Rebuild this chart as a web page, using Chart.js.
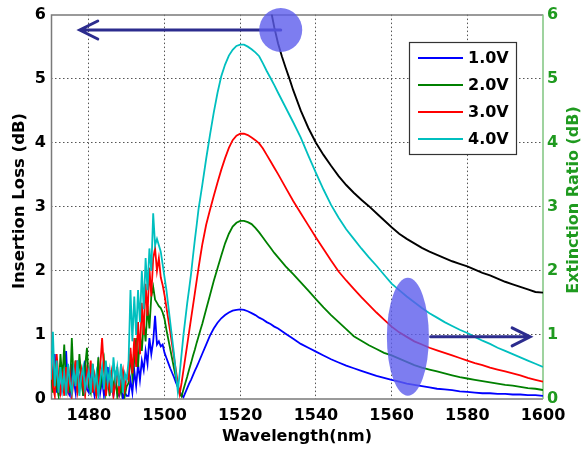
<!DOCTYPE html>
<html>
<head>
<meta charset="utf-8">
<script src="https://cdn.jsdelivr.net/npm/chart.js@4.4.1/dist/chart.umd.min.js"></script>
<style>
  html, body { margin: 0; padding: 0; background: #fff; }
  #wrap { width: 581px; height: 455px; }
</style>
</head>
<body>
<div id="wrap"><canvas id="chart" width="581" height="455"></canvas></div>
<script>
// wavelength grid (nm) shared by the four extinction-ratio sweeps
const scanWl = [
  1470, 1470.5, 1471, 1471.5, 1472, 1472.5, 1473, 1473.5, 1474, 1474.5,
  1475, 1475.5, 1476, 1476.5, 1477, 1477.5, 1478, 1478.5, 1479, 1479.5,
  1480, 1480.5, 1481, 1481.5, 1482, 1482.5, 1483, 1483.5, 1484, 1484.5,
  1485, 1485.5, 1486, 1486.5, 1487, 1487.5, 1488, 1488.5, 1489, 1489.5,
  1490, 1490.5, 1491, 1491.5, 1492, 1492.5, 1493, 1493.5, 1494, 1494.5,
  1495, 1495.5, 1496, 1496.5, 1497, 1497.5, 1498, 1498.5, 1499, 1499.5,
  1500, 1500.5, 1501, 1501.5, 1502, 1502.5, 1503, 1503.5, 1504, 1504.5,
  1505, 1505.5, 1506, 1506.5, 1507, 1507.5, 1508, 1508.5, 1509, 1509.5,
  1510, 1511, 1512, 1513, 1514, 1515, 1516, 1517, 1518, 1519,
  1520, 1521, 1522, 1523, 1524, 1525, 1526, 1527, 1528, 1529,
  1530, 1532, 1534, 1536, 1538, 1540, 1542, 1544, 1546, 1548,
  1550, 1552, 1554, 1556, 1558, 1560, 1562, 1564, 1566, 1568,
  1570, 1572, 1574, 1576, 1578, 1580, 1582, 1584, 1586, 1588,
  1590, 1592, 1594, 1596, 1598, 1600
];

// extinction ratio (dB) per bias voltage
const er1V = [
  0.55, 0.15, 0.7, 0.1, 0.3, 0.05, 0.45, 0.2, 0.75, 0.1,
  0.05, 0.55, 0.3, 0.1, 0.6, 0.2, 0.45, 0.05, 0.6, 0.15,
  0.1, 0.5, 0.2, 0.05, 0.35, 0.55, 0.1, 0.3, 0.05, 0.25,
  0.5, 0.1, 0.2, 0.05, 0.3, 0.1, 0.05, 0.2, 0.0, 0.1,
  0.05, 0.05, 0.3, 0.1, 0.45, 0.2, 0.55, 0.3, 0.6, 0.45,
  0.75, 0.55, 0.95, 0.7, 0.9, 1.3, 0.85, 0.9, 0.82, 0.85,
  0.72, 0.64, 0.56, 0.48, 0.41, 0.34, 0.26, 0.19, 0.12, 0.06,
  0.03, 0.1, 0.17, 0.24, 0.3, 0.37, 0.44, 0.5, 0.57, 0.64,
  0.71, 0.85, 0.99, 1.1, 1.19, 1.26, 1.31, 1.35, 1.38, 1.39,
  1.4, 1.39, 1.37, 1.34, 1.31, 1.27, 1.24, 1.2, 1.17, 1.13,
  1.1, 1.02, 0.94, 0.86, 0.8, 0.74, 0.68, 0.62, 0.57, 0.52,
  0.48, 0.44, 0.4, 0.36, 0.33, 0.3, 0.27, 0.24, 0.22, 0.2,
  0.18, 0.16, 0.15, 0.14, 0.12, 0.11, 0.1, 0.09, 0.09, 0.08,
  0.08, 0.07, 0.07, 0.06, 0.06, 0.05
];
const er2V = [
  0.4, 0.1, 0.55, 0.2, 0.05, 0.7, 0.3, 0.85, 0.15, 0.45,
  0.1, 0.95, 0.25, 0.6, 0.1, 0.7, 0.35, 0.05, 0.5, 0.8,
  0.2, 0.1, 0.55, 0.3, 0.05, 0.65, 0.15, 0.4, 0.6, 0.1,
  0.3, 0.05, 0.45, 0.15, 0.35, 0.05, 0.25, 0.1, 0.4, 0.05,
  0.2, 0.25, 0.7, 0.35, 0.6, 0.95, 0.5, 1.0, 0.75, 1.2,
  0.9, 1.45, 1.1, 1.6, 1.75, 1.55, 1.5, 1.45, 1.42, 1.35,
  1.25, 1.08, 0.93, 0.78, 0.63, 0.48, 0.34, 0.2, 0.08, 0.04,
  0.15, 0.25, 0.35, 0.46, 0.56, 0.67, 0.77, 0.88, 0.98, 1.08,
  1.18, 1.4, 1.62, 1.84, 2.04, 2.24, 2.43, 2.58, 2.69, 2.75,
  2.78, 2.78, 2.76, 2.73, 2.67, 2.6, 2.52, 2.44, 2.36, 2.28,
  2.21, 2.07, 1.95, 1.82, 1.69, 1.56, 1.43, 1.31, 1.2, 1.09,
  0.98, 0.91, 0.84, 0.78, 0.72, 0.68, 0.63, 0.58, 0.53, 0.49,
  0.46, 0.43, 0.4, 0.37, 0.34, 0.32, 0.3, 0.28, 0.26, 0.24,
  0.22, 0.21, 0.19, 0.17, 0.16, 0.14
];
const er3V = [
  0.75, 0.2, 0.05, 0.7, 0.3, 0.1, 0.35, 0.05, 0.5, 0.15,
  0.4, 0.05, 0.3, 0.6, 0.1, 0.25, 0.45, 0.2, 0.05, 0.45,
  0.3, 0.6, 0.1, 0.35, 0.05, 0.2, 0.5, 0.95, 0.45, 0.05,
  0.3, 0.15, 0.4, 0.05, 0.25, 0.5, 0.1, 0.3, 0.45, 0.15,
  0.35, 0.3, 0.8, 0.4, 0.95, 0.5, 1.2, 0.7, 1.5, 1.0,
  1.8, 1.3, 2.05, 1.6, 2.2, 2.35, 2.0, 2.2, 1.9, 1.78,
  1.62, 1.43, 1.24, 1.05, 0.85, 0.65, 0.45, 0.25, 0.08, 0.25,
  0.45, 0.65, 0.85, 1.05, 1.25, 1.45, 1.65, 1.85, 2.05, 2.24,
  2.42, 2.72, 2.95, 3.17, 3.38, 3.58, 3.76, 3.92, 4.04, 4.11,
  4.14, 4.14, 4.12, 4.08, 4.04, 3.99, 3.91, 3.81, 3.71, 3.61,
  3.51, 3.3, 3.09, 2.9, 2.71, 2.52, 2.34, 2.16, 1.99, 1.85,
  1.72, 1.59, 1.47, 1.35, 1.24, 1.13, 1.04, 0.97, 0.9, 0.85,
  0.8, 0.76, 0.72, 0.68, 0.64, 0.6, 0.56, 0.53, 0.49, 0.46,
  0.43, 0.4, 0.37, 0.33, 0.3, 0.27
];
const er4V = [
  0.3, 1.05, 0.2, 0.6, 0.1, 0.5, 0.15, 0.4, 0.05, 0.55,
  0.25, 0.1, 0.45, 0.2, 0.6, 0.05, 0.35, 0.5, 0.15, 0.3,
  0.45, 0.1, 0.55, 0.2, 0.4, 0.05, 0.3, 0.5, 0.15, 0.6,
  0.25, 0.45, 0.1, 0.65, 0.3, 0.5, 0.2, 0.55, 0.1, 0.4,
  0.3, 0.6, 1.7, 0.9, 1.6, 1.0, 1.7, 1.2, 2.0, 1.4,
  2.2, 1.7, 2.35, 2.0, 2.9, 2.4, 2.5, 2.4, 2.3, 2.1,
  1.9, 1.7, 1.45, 1.2, 0.95, 0.7, 0.4, 0.12, 0.4, 0.7,
  1.0, 1.25, 1.5, 1.72, 1.95, 2.22, 2.48, 2.72, 2.97, 3.16,
  3.35, 3.75, 4.12, 4.47, 4.78, 5.04, 5.22, 5.36, 5.45, 5.51,
  5.53, 5.53, 5.5, 5.46, 5.41, 5.35, 5.24, 5.12, 5.01, 4.9,
  4.78, 4.55, 4.32, 4.08, 3.8, 3.53, 3.27, 3.03, 2.83, 2.65,
  2.5, 2.35, 2.21, 2.08, 1.94, 1.8, 1.7, 1.6, 1.51, 1.42,
  1.34, 1.27, 1.2, 1.14, 1.08, 1.03, 0.97, 0.91, 0.86, 0.8,
  0.75, 0.7, 0.65, 0.6, 0.55, 0.5
];

// insertion loss (dB), left axis
const ilWl = [
  1528, 1529, 1530, 1531, 1532, 1533, 1534, 1536, 1538,
  1540, 1542, 1544, 1546, 1548, 1550, 1552, 1554, 1556, 1558,
  1560, 1562, 1564, 1566, 1568, 1570, 1572, 1574, 1576, 1578,
  1580, 1582, 1584, 1586, 1588, 1590, 1592, 1594, 1596, 1598, 1600
];
const insertionLoss = [
  6.1, 5.8, 5.55, 5.35, 5.17, 5.0, 4.82, 4.5, 4.23,
  4.0, 3.81, 3.64, 3.48, 3.34, 3.22, 3.11, 3.01, 2.9, 2.79,
  2.68, 2.58, 2.5, 2.43, 2.36, 2.3, 2.25, 2.2, 2.15, 2.11,
  2.07, 2.02, 1.97, 1.93, 1.88, 1.83, 1.79, 1.75, 1.71, 1.67, 1.66
];

const biasLabels = ['1.0V', '2.0V', '3.0V', '4.0V'];
const xTicks = [1480, 1500, 1520, 1540, 1560, 1580, 1600];
const yTicks = [0, 1, 2, 3, 4, 5, 6];

const GREEN_AXIS = '#1f9a1f';
const FONT = 'DejaVu Sans';

const toPoints = (xs, ys) => xs.map((x, i) => ({ x: x, y: ys[i] }));

// callouts: filled circle/ellipse plus an arrow pointing to the matching axis
const callouts = [
  { x: 1530.7, y: 5.76, rx: 21.5, ry: 22, arrowTo: 1477.6 },
  { x: 1564.3, y: 0.97, rx: 21, ry: 59, arrowFrom: 1570.3, arrowTo: 1596.6 }
];

const framePlugin = {
  id: 'frame',
  beforeDatasetsDraw(chart) {
    const { ctx, chartArea: a } = chart;
    ctx.save();
    ctx.lineWidth = 1.5;
    ctx.strokeStyle = '#7a7a7a';
    ctx.beginPath();
    ctx.moveTo(a.right, a.top + 0.5);
    ctx.lineTo(a.left + 0.5, a.top + 0.5);
    ctx.lineTo(a.left + 0.5, a.bottom);
    ctx.lineTo(a.right, a.bottom);
    ctx.stroke();
    ctx.strokeStyle = '#7fc47f';
    ctx.beginPath();
    ctx.moveTo(a.right, a.top);
    ctx.lineTo(a.right, a.bottom);
    ctx.stroke();
    ctx.restore();
  }
};

const calloutPlugin = {
  id: 'callouts',
  afterDatasetsDraw(chart) {
    const { ctx, scales } = chart;
    const xs = scales.x, ys = scales.y2;
    ctx.save();
    callouts.forEach(c => {
      const cx = xs.getPixelForValue(c.x);
      const cy = ys.getPixelForValue(c.y);
      const tip = xs.getPixelForValue(c.arrowTo);
      const start = c.arrowFrom ? xs.getPixelForValue(c.arrowFrom) : cx;
      const dir = tip < start ? 1 : -1;
      ctx.strokeStyle = '#2c2c8e';
      ctx.lineWidth = 3;
      ctx.lineCap = 'round';
      ctx.beginPath();
      ctx.moveTo(start, cy);
      ctx.lineTo(tip, cy);
      ctx.moveTo(tip + dir * 18, cy - 9);
      ctx.lineTo(tip, cy);
      ctx.lineTo(tip + dir * 18, cy + 9);
      ctx.stroke();
      ctx.fillStyle = 'rgba(92, 92, 236, 0.8)';
      ctx.beginPath();
      ctx.ellipse(cx, cy, c.rx, c.ry, 0, 0, Math.PI * 2);
      ctx.fill();
    });
    ctx.restore();
  }
};

const legendPlugin = {
  id: 'boxLegend',
  afterDraw(chart) {
    const { ctx } = chart;
    const box = { x: 409.5, y: 42.5, w: 107, h: 112 };
    ctx.save();
    ctx.fillStyle = '#fff';
    ctx.fillRect(box.x, box.y, box.w, box.h);
    ctx.strokeStyle = '#333';
    ctx.lineWidth = 1.2;
    ctx.strokeRect(box.x, box.y, box.w, box.h);
    ctx.font = 'bold 16px "' + FONT + '"';
    ctx.textBaseline = 'middle';
    ctx.fillStyle = '#000';
    biasLabels.forEach((label, i) => {
      const ds = chart.data.datasets.find(d => d.label === label);
      const y = 58 + i * 27;
      ctx.strokeStyle = ds.borderColor;
      ctx.lineWidth = 2;
      ctx.beginPath();
      ctx.moveTo(418, y);
      ctx.lineTo(463, y);
      ctx.stroke();
      ctx.fillText(label, 468, y + 1);
    });
    ctx.restore();
  }
};

const axisTitlePlugin = {
  id: 'axisTitles',
  afterDraw(chart) {
    const { ctx, chartArea: a } = chart;
    ctx.save();
    ctx.textAlign = 'center';
    ctx.textBaseline = 'middle';
    ctx.fillStyle = '#000';
    ctx.font = 'bold 16px "' + FONT + '"';
    ctx.fillText('Wavelength(nm)', (a.left + a.right) / 2, 437);

    ctx.font = 'bold 16.5px "' + FONT + '"';
    ctx.translate(19.5, 201);
    ctx.rotate(-Math.PI / 2);
    ctx.fillText('Insertion Loss (dB)', 0, 0);
    ctx.restore();

    ctx.save();
    ctx.textAlign = 'center';
    ctx.textBaseline = 'middle';
    ctx.fillStyle = GREEN_AXIS;
    ctx.font = 'bold 16px "' + FONT + '"';
    ctx.translate(573.5, 200);
    ctx.rotate(-Math.PI / 2);
    ctx.fillText('Extinction Ratio (dB)', 0, 0);
    ctx.restore();
  }
};

const gridColor = (edgeValues) => (c) =>
  (c.tick && edgeValues.includes(c.tick.value)) ? 'rgba(0,0,0,0)' : '#555';

const plainTick = v => String(v);

const lineStyle = { borderWidth: 1.8, pointRadius: 0, tension: 0, fill: false };

new Chart(document.getElementById('chart'), {
  type: 'line',
  data: {
    datasets: [
      { label: '4.0V', data: toPoints(scanWl, er4V), borderColor: '#00bfbf', yAxisID: 'y2', order: 1, ...lineStyle },
      { label: '3.0V', data: toPoints(scanWl, er3V), borderColor: '#ff0000', yAxisID: 'y2', order: 2, ...lineStyle },
      { label: '2.0V', data: toPoints(scanWl, er2V), borderColor: '#008000', yAxisID: 'y2', order: 3, ...lineStyle },
      { label: '1.0V', data: toPoints(scanWl, er1V), borderColor: '#0000ff', yAxisID: 'y2', order: 4, ...lineStyle },
      { label: 'Insertion Loss', data: toPoints(ilWl, insertionLoss), borderColor: '#000000', yAxisID: 'y', order: 0, ...lineStyle, borderWidth: 1.9 }
    ]
  },
  options: {
    responsive: false,
    animation: false,
    events: [],
    layout: { padding: { top: 12, left: 0, right: 0, bottom: 0 } },
    plugins: {
      legend: { display: false },
      tooltip: { enabled: false }
    },
    scales: {
      x: {
        type: 'linear',
        min: 1470,
        max: 1600,
        afterBuildTicks: s => { s.ticks = xTicks.map(v => ({ value: v })); },
        afterFit: s => { s.height = 56; },
        ticks: { color: '#000', font: { family: FONT, size: 16, weight: 'bold' }, padding: 7, maxRotation: 0, callback: plainTick },
        grid: { color: gridColor([1600]), lineWidth: 1, drawTicks: false },
        border: { display: false, dash: [1.5, 2.5] }
      },
      y: {
        position: 'left',
        min: 0,
        max: 6,
        afterBuildTicks: s => { s.ticks = yTicks.map(v => ({ value: v })); },
        afterFit: s => { s.width = 51; },
        ticks: { color: '#000', font: { family: FONT, size: 16, weight: 'bold' }, padding: 5, callback: plainTick },
        grid: { color: gridColor([0, 6]), lineWidth: 1, drawTicks: false },
        border: { display: false, dash: [1.5, 2.5] }
      },
      y2: {
        position: 'right',
        min: 0,
        max: 6,
        afterBuildTicks: s => { s.ticks = yTicks.map(v => ({ value: v })); },
        afterFit: s => { s.width = 38; },
        ticks: { color: GREEN_AXIS, font: { family: FONT, size: 16, weight: 'bold' }, padding: 4, callback: plainTick },
        grid: { display: false, drawTicks: false },
        border: { display: false }
      }
    }
  },
  plugins: [framePlugin, calloutPlugin, legendPlugin, axisTitlePlugin]
});
</script>
</body>
</html>
